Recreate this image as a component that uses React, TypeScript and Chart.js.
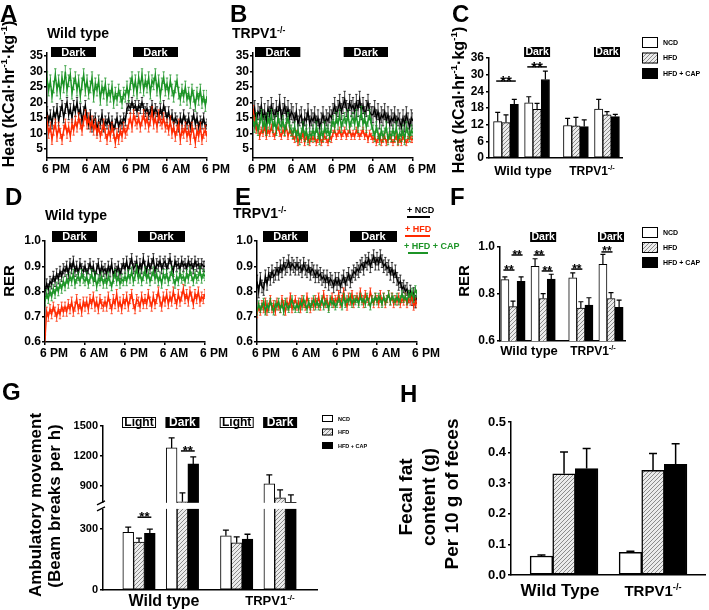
import React, { useEffect, useRef } from 'react';
import { Chart, registerables } from 'chart.js';

Chart.register(...registerables);

/* ============================ DATA ============================ */
const seriesLabels = ['NCD', 'HFD', 'HFD + CAP'];
const timeTickHours = [0, 12, 24, 36, 48];
const timeTickLabels = ['6 PM', '6 AM', '6 PM', '6 AM', '6 PM'];
const sampleStepHours = 0.5;

// Panel A – Heat, wild type (every 30 min, 6 PM day 1 -> 6 PM day 3)
const heatWT_NCD = [
  17, 14, 16, 13, 17, 15, 18, 14, 17, 19, 15, 18,
  20, 16, 18, 15, 19, 17, 20, 16, 18, 14, 17, 19,
  15, 13, 16, 12, 14, 15, 11, 14, 13, 16, 12, 14,
  13, 15, 12, 14, 11, 13, 15, 12, 14, 13, 15, 14,
  18, 19, 18, 20, 18, 19, 17, 19, 18, 20, 18, 17,
  18, 16, 17, 19, 16, 18, 17, 15, 18, 16, 19, 17,
  15, 17, 14, 16, 13, 15, 14, 12, 15, 13, 16, 14,
  13, 15, 12, 14, 16, 13, 15, 12, 14, 13, 15, 12,
  13,
];
const heatWT_HFD = [
  14, 10, 12, 8, 11, 13, 9, 12, 10, 8, 11, 13,
  10, 12, 9, 13, 11, 14, 12, 15, 13, 11, 14, 16,
  13, 15, 12, 14, 11, 13, 10, 12, 9, 11, 13, 10,
  8, 11, 9, 12, 10, 7, 10, 8, 11, 9, 12, 10,
  11, 13, 15, 12, 16, 14, 13, 15, 12, 14, 16, 13,
  15, 12, 14, 17, 13, 15, 12, 16, 14, 13, 15, 12,
  13, 11, 14, 10, 12, 9, 11, 13, 8, 11, 10, 12,
  9, 11, 8, 12, 10, 7, 11, 9, 12, 8, 10, 11,
  9,
];
const heatWT_CAP = [
  28, 24, 27, 22, 25, 29, 24, 27, 23, 28, 25, 30,
  24, 27, 29, 23, 26, 28, 24, 27, 22, 26, 29, 24,
  27, 23, 25, 28, 22, 26, 24, 27, 21, 25, 23, 26,
  21, 24, 22, 25, 20, 23, 21, 24, 22, 20, 23, 22,
  25, 22, 26, 28, 24, 27, 23, 28, 25, 29, 24, 27,
  25, 28, 23, 27, 26, 29, 24, 27, 22, 26, 28, 24,
  26, 23, 27, 24, 22, 25, 27, 23, 21, 24, 22, 25,
  21, 23, 20, 24, 22, 19, 23, 21, 24, 20, 22, 19,
  22,
];
const heatWT_SEM = [1.6, 1.6, 1.9];

// Panel B – Heat, TRPV1-/-
const heatKO_NCD = [
  15, 18, 14, 17, 16, 19, 15, 17, 14, 18, 16, 19,
  17, 15, 18, 16, 20, 15, 17, 19, 16, 18, 15, 17,
  16, 14, 17, 13, 15, 16, 12, 15, 14, 17, 13, 15,
  14, 16, 13, 15, 12, 14, 16, 13, 15, 14, 16, 15,
  17, 19, 16, 18, 20, 17, 19, 21, 18, 17, 20, 18,
  19, 17, 20, 18, 21, 17, 19, 16, 18, 20, 17, 16,
  16, 18, 15, 17, 14, 16, 15, 17, 14, 16, 13, 15,
  14, 16, 13, 15, 14, 12, 15, 13, 16, 14, 12, 15,
  14,
];
const heatKO_HFD = [
  18, 14, 11, 12, 9, 11, 10, 12, 9, 11, 10, 12,
  10, 9, 11, 12, 10, 9, 11, 10, 12, 9, 11, 10,
  9, 8, 10, 7, 9, 8, 10, 7, 9, 8, 7, 9,
  8, 9, 7, 8, 9, 7, 8, 9, 8, 7, 9, 8,
  10, 11, 9, 10, 11, 9, 10, 11, 9, 10, 11, 9,
  10, 9, 11, 10, 9, 10, 11, 9, 10, 8, 10, 9,
  8, 9, 7, 8, 9, 7, 8, 9, 7, 8, 9, 8,
  7, 8, 9, 7, 8, 7, 9, 8, 7, 8, 9, 8,
  8,
];
const heatKO_CAP = [
  14, 12, 15, 11, 13, 16, 12, 14, 11, 15, 13, 16,
  12, 14, 11, 15, 13, 12, 14, 11, 13, 15, 12, 11,
  10, 12, 9, 11, 8, 10, 12, 9, 11, 8, 10, 9,
  11, 9, 12, 10, 8, 11, 9, 12, 10, 11, 9, 12,
  14, 12, 15, 13, 16, 12, 14, 15, 13, 16, 12, 14,
  15, 13, 16, 12, 14, 17, 13, 15, 12, 14, 16, 13,
  11, 9, 12, 10, 8, 11, 9, 10, 12, 8, 10, 9,
  11, 9, 12, 8, 10, 9, 11, 8, 12, 10, 9, 11,
  10,
];
const heatKO_SEM = [2.6, 1.0, 1.7];

// Panel D – RER, wild type
const rerWT_NCD = [
  0.80, 0.83, 0.81, 0.84, 0.83, 0.86, 0.84, 0.87, 0.85, 0.88, 0.86, 0.89,
  0.88, 0.90, 0.87, 0.91, 0.89, 0.92, 0.88, 0.90, 0.87, 0.91, 0.89, 0.88,
  0.90, 0.87, 0.89, 0.91, 0.88, 0.90, 0.86, 0.89, 0.91, 0.87, 0.90, 0.88,
  0.89, 0.87, 0.90, 0.88, 0.91, 0.86, 0.89, 0.88, 0.90, 0.87, 0.89, 0.91,
  0.89, 0.92, 0.88, 0.91, 0.93, 0.89, 0.90, 0.92, 0.88, 0.91, 0.89, 0.93,
  0.90, 0.88, 0.92, 0.89, 0.91, 0.93, 0.88, 0.91, 0.90, 0.92, 0.89, 0.91,
  0.92, 0.89, 0.91, 0.93, 0.90, 0.88, 0.92, 0.90, 0.91, 0.89, 0.92, 0.90,
  0.91, 0.89, 0.92, 0.90, 0.91, 0.89, 0.92, 0.90, 0.91, 0.89, 0.91, 0.90,
  0.90,
];
const rerWT_HFD = [
  0.61, 0.72, 0.70, 0.73, 0.71, 0.74, 0.72, 0.70, 0.73, 0.71, 0.74, 0.72,
  0.74, 0.72, 0.75, 0.73, 0.76, 0.72, 0.74, 0.77, 0.73, 0.75, 0.72, 0.76,
  0.74, 0.76, 0.73, 0.77, 0.75, 0.78, 0.74, 0.76, 0.73, 0.77, 0.75, 0.74,
  0.76, 0.74, 0.78, 0.75, 0.73, 0.77, 0.75, 0.79, 0.74, 0.76, 0.73, 0.77,
  0.75, 0.78, 0.74, 0.77, 0.79, 0.75, 0.73, 0.77, 0.76, 0.74, 0.78, 0.75,
  0.77, 0.75, 0.79, 0.76, 0.74, 0.78, 0.75, 0.77, 0.80, 0.76, 0.74, 0.78,
  0.76, 0.79, 0.75, 0.78, 0.76, 0.80, 0.77, 0.75, 0.79, 0.76, 0.78, 0.81,
  0.77, 0.79, 0.76, 0.80, 0.78, 0.75, 0.79, 0.77, 0.80, 0.76, 0.78, 0.77,
  0.79,
];
const rerWT_CAP = [
  0.76, 0.79, 0.77, 0.80, 0.78, 0.81, 0.79, 0.82, 0.80, 0.83, 0.81, 0.84,
  0.82, 0.85, 0.83, 0.86, 0.84, 0.87, 0.83, 0.85, 0.86, 0.84, 0.87, 0.85,
  0.84, 0.86, 0.83, 0.85, 0.87, 0.84, 0.86, 0.82, 0.85, 0.84, 0.86, 0.83,
  0.85, 0.83, 0.86, 0.84, 0.82, 0.85, 0.87, 0.84, 0.86, 0.83, 0.85, 0.84,
  0.86, 0.84, 0.87, 0.85, 0.88, 0.84, 0.86, 0.89, 0.85, 0.87, 0.84, 0.86,
  0.88, 0.85, 0.87, 0.84, 0.86, 0.88, 0.85, 0.87, 0.84, 0.86, 0.83, 0.87,
  0.85, 0.87, 0.84, 0.86, 0.88, 0.85, 0.83, 0.86, 0.84, 0.87, 0.85, 0.86,
  0.84, 0.87, 0.85, 0.88, 0.86, 0.84, 0.87, 0.85, 0.86, 0.88, 0.85, 0.87,
  0.86,
];
const rerWT_SEM = [0.02, 0.018, 0.017];

// Panel E – RER, TRPV1-/-
const rerKO_NCD = [
  0.84, 0.80, 0.85, 0.82, 0.81, 0.86, 0.83, 0.87, 0.85, 0.88, 0.86, 0.87,
  0.89, 0.87, 0.90, 0.88, 0.91, 0.89, 0.90, 0.92, 0.89, 0.91, 0.90, 0.89,
  0.91, 0.89, 0.90, 0.88, 0.91, 0.89, 0.88, 0.90, 0.87, 0.89, 0.88, 0.86,
  0.88, 0.86, 0.87, 0.85, 0.86, 0.84, 0.86, 0.83, 0.85, 0.84, 0.82, 0.85,
  0.83, 0.85, 0.82, 0.84, 0.86, 0.83, 0.85, 0.87, 0.84, 0.86, 0.88, 0.87,
  0.89, 0.88, 0.90, 0.91, 0.89, 0.92, 0.91, 0.93, 0.90, 0.92, 0.94, 0.91,
  0.93, 0.91, 0.94, 0.92, 0.90, 0.91, 0.89, 0.90, 0.87, 0.89, 0.86, 0.88,
  0.85, 0.83, 0.84, 0.81, 0.82, 0.80, 0.81, 0.78, 0.80, 0.77, 0.79, 0.76,
  0.78,
];
const rerKO_HFD = [
  0.71, 0.74, 0.72, 0.75, 0.73, 0.76, 0.72, 0.74, 0.77, 0.73, 0.75, 0.72,
  0.76, 0.74, 0.73, 0.77, 0.75, 0.72, 0.76, 0.74, 0.78, 0.73, 0.75, 0.77,
  0.74, 0.76, 0.73, 0.77, 0.75, 0.74, 0.78, 0.75, 0.73, 0.76, 0.74, 0.77,
  0.75, 0.78, 0.74, 0.76, 0.79, 0.75, 0.77, 0.74, 0.76, 0.78, 0.75, 0.77,
  0.76, 0.79, 0.75, 0.77, 0.80, 0.76, 0.74, 0.78, 0.76, 0.79, 0.75, 0.77,
  0.78, 0.76, 0.80, 0.77, 0.75, 0.79, 0.77, 0.76, 0.80, 0.77, 0.75, 0.78,
  0.77, 0.75, 0.79, 0.76, 0.78, 0.75, 0.77, 0.79, 0.76, 0.78, 0.75, 0.77,
  0.76, 0.78, 0.75, 0.77, 0.76, 0.78, 0.75, 0.77, 0.76, 0.78, 0.74, 0.76,
  0.75,
];
const rerKO_CAP = [
  0.72, 0.75, 0.73, 0.74, 0.76, 0.72, 0.75, 0.73, 0.76, 0.74, 0.72, 0.75,
  0.74, 0.76, 0.73, 0.75, 0.72, 0.76, 0.74, 0.73, 0.75, 0.77, 0.74, 0.73,
  0.75, 0.73, 0.76, 0.74, 0.77, 0.75, 0.73, 0.76, 0.74, 0.75, 0.77, 0.74,
  0.76, 0.74, 0.75, 0.77, 0.74, 0.76, 0.75, 0.73, 0.77, 0.75, 0.76, 0.74,
  0.75, 0.77, 0.76, 0.74, 0.78, 0.75, 0.77, 0.76, 0.78, 0.75, 0.77, 0.76,
  0.77, 0.75, 0.78, 0.76, 0.77, 0.75, 0.78, 0.76, 0.74, 0.77, 0.76, 0.78,
  0.76, 0.78, 0.77, 0.75, 0.78, 0.76, 0.77, 0.79, 0.76, 0.78, 0.77, 0.76,
  0.78, 0.76, 0.77, 0.79, 0.77, 0.78, 0.76, 0.79, 0.78, 0.80, 0.77, 0.81,
  0.79,
];
const rerKO_SEM = [0.025, 0.014, 0.013];

const heatTicks = [5, 10, 15, 20, 25, 30, 35];
const rerTicks = [0.6, 0.7, 0.8, 0.9, 1.0];

// Bar panels – groups: [WT light, WT dark, TRPV1 light, TRPV1 dark]
const heatBarNCD = [13.1, 19.9, 11.7, 17.65];
const heatBarNCDErr = [3.3, 2.15, 2.6, 3.45];
const heatBarHFD = [12.75, 17.5, 11.55, 15.5];
const heatBarHFDErr = [2.75, 2.2, 3.1, 1.2];
const heatBarCAP = [19.3, 28.25, 11.3, 14.9];
const heatBarCAPErr = [1.8, 3.0, 2.4, 0.8];
const heatBarTicks = [0, 6, 12, 18, 24, 30, 36];
const heatSig = [
  { group: 0, from: 0, to: 2, y: 27.7 },
  { group: 1, from: 0, to: 2, y: 32.8 },
];

const rerBarNCD = [0.861, 0.918, 0.869, 0.926];
const rerBarNCDErr = [0.012, 0.032, 0.021, 0.043];
const rerBarHFD = [0.746, 0.781, 0.74, 0.781];
const rerBarHFDErr = [0.024, 0.021, 0.027, 0.025];
const rerBarCAP = [0.854, 0.863, 0.753, 0.743];
const rerBarCAPErr = [0.019, 0.021, 0.031, 0.031];
const rerBarTicks = [0.6, 0.8, 1.0];
const rerSig = [
  { group: 0, from: 0, to: 1, y: 0.902 },
  { group: 0, from: 1, to: 2, y: 0.966 },
  { group: 1, from: 0, to: 1, y: 0.966 },
  { group: 1, from: 1, to: 2, y: 0.898 },
  { group: 2, from: 0, to: 1, y: 0.906 },
  { group: 3, from: 0, to: 1, y: 0.979 },
];

const ambNCD = [285, 1280, 267, 920];
const ambNCDErr = [25, 100, 28, 90];
const ambHFD = [236, 740, 233, 780];
const ambHFDErr = [20, 90, 29, 80];
const ambCAP = [280, 1120, 251, 735];
const ambCAPErr = [20, 70, 24, 75];
const ambTicks = [0, 300, 900, 1200, 1500];
const ambBreak = [400, 730];
const ambSig = [
  { group: 0, from: 1, to: 2, y: 359 },
  { group: 1, from: 1, to: 2, y: 1250 },
];

// Panel H – groups: [Wild Type, TRPV1-/-]
const fatNCD = [0.062, 0.074];
const fatNCDErr = [0.003, 0.004];
const fatHFD = [0.331, 0.342];
const fatHFDErr = [0.071, 0.055];
const fatCAP = [0.348, 0.362];
const fatCAPErr = [0.065, 0.067];
const fatTicks = [0, 0.1, 0.2, 0.3, 0.4, 0.5];

/* ============================ STYLE / LAYOUT ============================ */
const PAGE_W = 709;
const PAGE_H = 610;
const FONT = '"Liberation Sans", Arial, Helvetica, sans-serif';
const BLACK = '#000000';
const RED = '#ff2a00';
const GREEN = '#1c9426';
const fnt = (size: number) => `bold ${size}px ${FONT}`;
const barGroupPos4 = [0, 1, 2.25, 3.25];
const barGroupPos2 = [0, 1];

type Part = { t: string; sup?: boolean };
type Txt = {
  parts: Part[]; x: number; y: number; size: number;
  color?: string; align?: CanvasTextAlign; rot?: boolean; base?: CanvasTextBaseline;
};

const txt = (s: string, x: number, y: number, size: number, extra: any = {}): Txt => ({ parts: [{ t: s }], x, y, size, ...extra });
const trpv = (x: number, y: number, size: number, extra: any = {}): Txt => ({
  parts: [{ t: 'TRPV1' }, { t: '-/-', sup: true }], x, y, size, ...extra,
});
const heatTitle = (x: number, y: number): Txt => ({
  parts: [{ t: 'Heat (kCal·hr' }, { t: '-1', sup: true }, { t: '·kg' }, { t: '-1', sup: true }, { t: ')' }],
  x, y, size: 16, rot: true, align: 'center', base: 'middle',
});

function drawRich(ctx: CanvasRenderingContext2D, it: Txt) {
  ctx.save();
  ctx.translate(it.x, it.y);
  if (it.rot) ctx.rotate(-Math.PI / 2);
  ctx.fillStyle = it.color || BLACK;
  ctx.textBaseline = it.base || 'alphabetic';
  ctx.textAlign = 'left';
  const supSize = it.size * 0.62;
  const widths = it.parts.map((p) => {
    ctx.font = fnt(p.sup ? supSize : it.size);
    return ctx.measureText(p.t).width;
  });
  const total = widths.reduce((a, b) => a + b, 0);
  let x = it.align === 'center' ? -total / 2 : it.align === 'right' ? -total : 0;
  it.parts.forEach((p, i) => {
    ctx.font = fnt(p.sup ? supSize : it.size);
    ctx.fillText(p.t, x, p.sup ? -it.size * 0.38 : 0);
    x += widths[i];
  });
  ctx.restore();
}

function makeHatch(): CanvasPattern | string {
  const c = document.createElement('canvas');
  c.width = 4; c.height = 4;
  const g = c.getContext('2d');
  if (!g) return '#cccccc';
  g.fillStyle = '#ebebeb';
  g.fillRect(0, 0, 4, 4);
  g.strokeStyle = '#808080';
  g.lineWidth = 0.9;
  g.beginPath();
  g.moveTo(0, 4); g.lineTo(4, 0);
  g.moveTo(-1, 1); g.lineTo(1, -1);
  g.moveTo(3, 5); g.lineTo(5, 3);
  g.stroke();
  return g.createPattern(c, 'repeat') || '#cccccc';
}

const decorPlugin = (fn: (ctx: CanvasRenderingContext2D, chart: any) => void) => ({
  id: 'decor',
  afterDraw(chart: any) {
    const ctx = chart.ctx;
    ctx.save();
    fn(ctx, chart);
    ctx.restore();
  },
});

const errorPlugin = {
  id: 'errs',
  afterDatasetDraw(chart: any, args: any) {
    const ds = chart.data.datasets[args.index];
    const ys = chart.scales.y;
    const ctx = chart.ctx;
    const area = chart.chartArea;
    ctx.save();
    if (ds.sem != null) {
      ctx.beginPath();
      ctx.rect(area.left, area.top, area.right - area.left, area.bottom - area.top);
      ctx.clip();
      ctx.strokeStyle = ds.borderColor;
      ctx.globalAlpha = 0.85;
      ctx.lineWidth = 0.9;
      ctx.beginPath();
      args.meta.data.forEach((el: any, i: number) => {
        const v = ds.data[i].y;
        const y1 = ys.getPixelForValue(v + ds.sem);
        const y2 = ys.getPixelForValue(v - ds.sem);
        ctx.moveTo(el.x, y1); ctx.lineTo(el.x, y2);
        ctx.moveTo(el.x - 1.2, y1); ctx.lineTo(el.x + 1.2, y1);
        ctx.moveTo(el.x - 1.2, y2); ctx.lineTo(el.x + 1.2, y2);
      });
      ctx.stroke();
    }
    if (ds.errTips) {
      ctx.strokeStyle = BLACK;
      ctx.lineWidth = ds.errWidth || 1.2;
      ctx.beginPath();
      args.meta.data.forEach((el: any, i: number) => {
        const tip = ys.getPixelForValue(ds.errTips[i]);
        ctx.moveTo(el.x, el.y); ctx.lineTo(el.x, tip);
        ctx.moveTo(el.x - ds.capHalf, tip); ctx.lineTo(el.x + ds.capHalf, tip);
      });
      ctx.stroke();
    }
    ctx.restore();
  },
};

const axisFont = (size: number) => ({ family: FONT, size, weight: 'bold' as const });

function tsChart(o: any) {
  const [l, t, r, b] = o.plot;
  const YW = 40, XH = 22;
  return {
    type: 'line',
    data: {
      datasets: o.series.map((s: any) => ({
        label: s.label,
        data: s.values.map((y: number, i: number) => ({ x: i * sampleStepHours, y })),
        borderColor: s.color,
        backgroundColor: s.color,
        borderWidth: 1.4,
        pointRadius: 0,
        tension: 0,
        fill: false,
        sem: s.sem,
      })),
    },
    options: {
      responsive: false, animation: false, devicePixelRatio: 1, events: [],
      layout: { padding: { left: l - YW, top: t, right: PAGE_W - r, bottom: PAGE_H - b - XH } },
      plugins: { legend: { display: false }, tooltip: { enabled: false }, title: { display: false } },
      scales: {
        x: {
          type: 'linear', min: 0, max: 48,
          afterBuildTicks: (s: any) => { s.ticks = timeTickHours.map((v) => ({ value: v })); },
          afterFit: (s: any) => { s.height = XH; },
          ticks: {
            autoSkip: false, maxRotation: 0, minRotation: 0, labelOffset: 9, padding: 1, color: BLACK,
            font: axisFont(12), callback: (_v: any, i: number) => timeTickLabels[i],
          },
          grid: { drawOnChartArea: false, tickLength: 3, color: BLACK, lineWidth: 1.5 },
          border: { color: BLACK, width: 1.5 },
        },
        y: {
          type: 'linear', min: o.yMin, max: o.yMax,
          afterBuildTicks: (s: any) => { s.ticks = o.yTicks.map((v: number) => ({ value: v })); },
          afterFit: (s: any) => { s.width = YW; },
          ticks: { autoSkip: false, padding: 1, color: BLACK, font: axisFont(12), callback: o.yLabel },
          grid: { drawOnChartArea: false, tickLength: 3, color: BLACK, lineWidth: 1.5 },
          border: { color: BLACK, width: 1.5 },
        },
      },
    },
    plugins: [errorPlugin, decorPlugin((ctx, chart) => {
      const xs = chart.scales.x;
      o.darkHours.forEach(([h1, h2]: number[]) => {
        const x1 = xs.getPixelForValue(h1), x2 = xs.getPixelForValue(h2);
        ctx.fillStyle = BLACK;
        ctx.fillRect(x1, o.darkTop, x2 - x1, o.darkH);
        drawRich(ctx, txt('Dark', (x1 + x2) / 2, o.darkTop + o.darkH / 2 + 0.5, 11, { color: '#fff', align: 'center', base: 'middle' }));
      });
      (o.lineLegend || []).forEach((it: any) => {
        const ds = chart.data.datasets.find((d: any) => d.label === it.label);
        const col = ds ? ds.borderColor : BLACK;
        drawRich(ctx, txt('+ ' + it.label, it.x, it.y, 9, { color: col }));
        ctx.strokeStyle = col;
        ctx.lineWidth = 2;
        ctx.beginPath();
        ctx.moveTo(it.lx1, it.ly); ctx.lineTo(it.lx2, it.ly);
        ctx.stroke();
      });
      o.texts.forEach((tx: Txt) => drawRich(ctx, tx));
    })],
  };
}

function barChart(o: any) {
  const [l, t, r, b] = o.plot;
  const YW = 40, XH = 24;
  const tf = o.transform || ((v: number) => v);
  return {
    type: 'bar',
    data: {
      datasets: o.series.map((s: any) => ({
        label: s.label,
        data: o.groupPos.map((x: number, i: number) => ({ x, y: tf(s.values[i]) })),
        errTips: s.values.map((v: number, i: number) => tf(v + s.errors[i])),
        capHalf: o.capHalf,
        errWidth: o.errWidth,
        backgroundColor: s.fill,
        borderColor: BLACK,
        borderWidth: o.borderWidth,
        borderSkipped: false,
        barThickness: o.barThickness,
      })),
    },
    options: {
      responsive: false, animation: false, devicePixelRatio: 1, events: [],
      layout: { padding: { left: l - YW, top: t, right: PAGE_W - r, bottom: PAGE_H - b - XH } },
      plugins: { legend: { display: false }, tooltip: { enabled: false }, title: { display: false } },
      scales: {
        x: {
          type: 'linear', min: o.xMin, max: o.xMax, offset: false,
          afterFit: (s: any) => { s.height = XH; },
          ticks: { display: false },
          grid: { display: true, drawOnChartArea: false, drawTicks: false, offset: false, color: 'rgba(0,0,0,0)' },
          border: { color: BLACK, width: 1.5 },
        },
        y: {
          type: 'linear', min: tf(o.yTicks[0]), max: tf(o.yTicks[o.yTicks.length - 1]),
          afterBuildTicks: (s: any) => { s.ticks = o.yTicks.map((v: number) => ({ value: tf(v) })); },
          afterFit: (s: any) => { s.width = YW; },
          ticks: { autoSkip: false, padding: 2, color: BLACK, font: axisFont(o.tickSize), callback: (_v: any, i: number) => o.yTickLabel(o.yTicks[i]) },
          grid: { drawOnChartArea: false, tickLength: 3, color: BLACK, lineWidth: 1.5 },
          border: { color: BLACK, width: 1.5 },
        },
      },
    },
    plugins: [errorPlugin, decorPlugin((ctx, chart) => {
      const xs = chart.scales.x, ys = chart.scales.y, area = chart.chartArea;
      if (o.breakAt) {
        const yLow = ys.getPixelForValue(tf(o.breakAt[0]));
        const yHigh = ys.getPixelForValue(tf(o.breakAt[1]));
        ctx.fillStyle = '#ffffff';
        ctx.fillRect(area.left - 8, yHigh, area.right - area.left + 8, yLow - yHigh);
        ctx.strokeStyle = BLACK;
        ctx.lineWidth = 1.3;
        ctx.beginPath();
        [yHigh, yLow].forEach((yy) => { ctx.moveTo(area.left - 6, yy + 2); ctx.lineTo(area.left + 2, yy - 2); });
        ctx.stroke();
      }
      (o.boxes || []).forEach((bx: any) => {
        const cx = xs.getPixelForValue(o.groupPos[bx.group]);
        const x1 = cx - o.boxW / 2;
        ctx.fillStyle = bx.dark ? BLACK : '#ffffff';
        ctx.fillRect(x1, o.boxTop, o.boxW, o.boxH);
        if (!bx.dark) {
          ctx.strokeStyle = BLACK; ctx.lineWidth = 1;
          ctx.strokeRect(x1 + 0.5, o.boxTop + 0.5, o.boxW - 1, o.boxH - 1);
        }
        drawRich(ctx, txt(bx.text, cx, o.boxTop + o.boxH / 2 + 0.5, o.boxFont, { color: bx.dark ? '#fff' : BLACK, align: 'center', base: 'middle' }));
      });
      (o.sig || []).forEach((s: any) => {
        const a = chart.getDatasetMeta(s.from).data[s.group];
        const c = chart.getDatasetMeta(s.to).data[s.group];
        const y = ys.getPixelForValue(tf(s.y));
        const x1 = a.x - 1.5, x2 = c.x + 1.5;
        ctx.strokeStyle = BLACK; ctx.lineWidth = 1.5;
        ctx.beginPath(); ctx.moveTo(x1, y); ctx.lineTo(x2, y); ctx.stroke();
        drawRich(ctx, txt('**', (x1 + x2) / 2, y - 1.5 + o.sigSize * 0.42, o.sigSize, { align: 'center' }));
      });
      if (o.legend) {
        const L = o.legend;
        chart.data.datasets.forEach((ds: any, i: number) => {
          const y = L.y + i * L.dy;
          ctx.fillStyle = ds.backgroundColor;
          ctx.fillRect(L.x, y, L.bw, L.bh);
          ctx.strokeStyle = BLACK; ctx.lineWidth = 1;
          ctx.strokeRect(L.x + 0.5, y + 0.5, L.bw - 1, L.bh - 1);
          drawRich(ctx, txt(ds.label, L.tx, y + L.bh / 2 + 0.5, L.size, { base: 'middle' }));
        });
      }
      o.texts.forEach((tx: Txt) => drawRich(ctx, tx));
    })],
  };
}

function ambMap(v: number) {
  const [lo, hi] = ambBreak;
  const gap = 30;
  const upper = 0.492;
  if (v <= lo) return v;
  if (v >= hi) return lo + gap + (v - hi) * upper;
  return lo + ((v - lo) / (hi - lo)) * gap;
}

function buildConfigs() {
  const hatch = makeHatch();
  const fills = ['#ffffff', hatch, BLACK];
  const lineColors = [BLACK, RED, GREEN];
  const ts = (ncd: number[], hfd: number[], cap: number[], sem: number[]) => [
    { label: seriesLabels[2], color: lineColors[2], values: cap, sem: sem[2] },
    { label: seriesLabels[1], color: lineColors[1], values: hfd, sem: sem[1] },
    { label: seriesLabels[0], color: lineColors[0], values: ncd, sem: sem[0] },
  ];
  const bars = (v: number[][], e: number[][]) => v.map((vals, i) => ({ label: seriesLabels[i], fill: fills[i], values: vals, errors: e[i] }));
  const fixed1 = (v: number) => v.toFixed(1);

  const A = tsChart({
    plot: [47, 53, 207, 158], yMin: 2, yMax: 36, yTicks: heatTicks, yLabel: (v: number) => String(v),
    series: ts(heatWT_NCD, heatWT_HFD, heatWT_CAP, heatWT_SEM),
    darkHours: [[1.2, 14.7], [25.8, 39.3]], darkTop: 47, darkH: 10,
    texts: [txt('A', 0, 22, 24), txt('Wild type', 47, 38, 14), heatTitle(10, 94)],
  });
  const B = tsChart({
    plot: [253, 53, 413, 158], yMin: 2, yMax: 36, yTicks: heatTicks, yLabel: (v: number) => String(v),
    series: ts(heatKO_NCD, heatKO_HFD, heatKO_CAP, heatKO_SEM),
    darkHours: [[0.6, 14.2], [27.2, 40.5]], darkTop: 47, darkH: 10,
    texts: [txt('B', 230, 22, 24), trpv(232, 38, 14)],
  });
  const D = tsChart({
    plot: [45, 241, 205, 342], yMin: 0.6, yMax: 1.0, yTicks: rerTicks, yLabel: fixed1,
    series: ts(rerWT_NCD, rerWT_HFD, rerWT_CAP, rerWT_SEM),
    darkHours: [[2.1, 15.6], [27.9, 42]], darkTop: 231, darkH: 11,
    texts: [txt('D', 5, 205, 24), txt('Wild type', 45, 220, 14), txt('RER', 10, 281, 15, { rot: true, align: 'center', base: 'middle' })],
  });
  const E = tsChart({
    plot: [257, 241, 417, 342], yMin: 0.6, yMax: 1.0, yTicks: rerTicks, yLabel: fixed1,
    series: ts(rerKO_NCD, rerKO_HFD, rerKO_CAP, rerKO_SEM),
    darkHours: [[1.8, 15.3], [27.9, 42]], darkTop: 231, darkH: 11,
    lineLegend: [
      { label: seriesLabels[0], x: 407, y: 213, lx1: 407, lx2: 430, ly: 217 },
      { label: seriesLabels[1], x: 405, y: 232, lx1: 405, lx2: 430, ly: 236 },
      { label: seriesLabels[2], x: 404, y: 249, lx1: 408, lx2: 428, ly: 253 },
    ],
    texts: [txt('E', 235, 205, 24), trpv(233, 218, 14)],
  });

  const C = barChart({
    plot: [489, 58, 622, 158], xMin: -0.547, xMax: 3.733, groupPos: barGroupPos4,
    yTicks: heatBarTicks, yTickLabel: (v: number) => String(v), tickSize: 12,
    series: bars([heatBarNCD, heatBarHFD, heatBarCAP], [heatBarNCDErr, heatBarHFDErr, heatBarCAPErr]),
    barThickness: 8.3, borderWidth: 1, capHalf: 2.5, errWidth: 1.2,
    sig: heatSig, sigSize: 15,
    boxes: [{ group: 1, text: 'Dark', dark: true }, { group: 3, text: 'Dark', dark: true }],
    boxW: 26, boxTop: 47, boxH: 10, boxFont: 10.5,
    legend: { x: 642, y: 37, dy: 15.5, bw: 16, bh: 11, size: 7, tx: 663 },
    texts: [txt('C', 452, 22, 24), heatTitle(460, 100), txt('Wild type', 523, 175, 13, { align: 'center' }), trpv(592, 175, 12, { align: 'center' })],
  });
  const F = barChart({
    plot: [500, 247, 625, 341], xMin: -0.431, xMax: 3.714, groupPos: barGroupPos4,
    yTicks: rerBarTicks, yTickLabel: fixed1, tickSize: 12,
    series: bars([rerBarNCD, rerBarHFD, rerBarCAP], [rerBarNCDErr, rerBarHFDErr, rerBarCAPErr]),
    barThickness: 8.1, borderWidth: 1, capHalf: 2.5, errWidth: 1.2,
    sig: rerSig, sigSize: 12,
    boxes: [{ group: 1, text: 'Dark', dark: true }, { group: 3, text: 'Dark', dark: true }],
    boxW: 26, boxTop: 232, boxH: 10, boxFont: 10.5,
    legend: { x: 642, y: 227, dy: 15, bw: 16, bh: 11, size: 7, tx: 663 },
    texts: [txt('F', 450, 205, 24), txt('RER', 465, 281, 15, { rot: true, align: 'center', base: 'middle' }), txt('Wild type', 529, 355, 13, { align: 'center' }), trpv(593, 355, 12, { align: 'center' })],
  });
  const G = barChart({
    plot: [103, 426, 317, 590], xMin: -0.83, xMax: 4.1, groupPos: barGroupPos4,
    yTicks: ambTicks, yTickLabel: (v: number) => String(v), tickSize: 11, transform: ambMap, breakAt: ambBreak,
    series: bars([ambNCD, ambHFD, ambCAP], [ambNCDErr, ambHFDErr, ambCAPErr]),
    barThickness: 10.8, borderWidth: 1, capHalf: 3, errWidth: 1.3,
    sig: ambSig, sigSize: 13,
    boxes: [
      { group: 0, text: 'Light', dark: false }, { group: 1, text: 'Dark', dark: true },
      { group: 2, text: 'Light', dark: false }, { group: 3, text: 'Dark', dark: true },
    ],
    boxW: 34, boxTop: 417, boxH: 11, boxFont: 12,
    legend: { x: 322, y: 415, dy: 13.5, bw: 11, bh: 7, size: 5.5, tx: 338 },
    texts: [
      txt('G', 2, 400, 24),
      txt('Ambulatory movement', 36, 505, 17, { rot: true, align: 'center', base: 'middle' }),
      txt('(Beam breaks per h)', 55, 506, 17, { rot: true, align: 'center', base: 'middle' }),
      txt('Wild type', 164, 606, 16, { align: 'center' }), trpv(270, 605, 13, { align: 'center' }),
    ],
  });
  const Hh = barChart({
    plot: [511, 422, 705, 575], xMin: -0.596, xMax: 1.584, groupPos: barGroupPos2,
    yTicks: fatTicks, yTickLabel: fixed1, tickSize: 13,
    series: bars([fatNCD, fatHFD, fatCAP], [fatNCDErr, fatHFDErr, fatCAPErr]),
    barThickness: 22.6, borderWidth: 1.5, capHalf: 4, errWidth: 1.5,
    sig: [], sigSize: 12, boxes: [],
    texts: [
      txt('H', 400, 402, 24),
      txt('Fecal fat', 407, 497, 19, { rot: true, align: 'center', base: 'middle' }),
      txt('content (g)', 430, 497, 19, { rot: true, align: 'center', base: 'middle' }),
      txt('Per 10 g of feces', 453, 494, 19, { rot: true, align: 'center', base: 'middle' }),
      txt('Wild Type', 560, 596, 17, { align: 'center' }), trpv(653, 596, 15, { align: 'center' }),
    ],
  });
  return [A, B, C, D, E, F, G, Hh];
}

export default function App() {
  const refs = useRef<(HTMLCanvasElement | null)[]>([]);
  useEffect(() => {
    const configs = buildConfigs();
    const charts = configs.map((cfg, i) => new Chart(refs.current[i] as HTMLCanvasElement, cfg as any));
    return () => charts.forEach((c) => c.destroy());
  }, []);
  return (
    <div style={{ position: 'absolute', left: 0, top: 0, width: PAGE_W, height: PAGE_H, background: '#ffffff', overflow: 'hidden' }}>
      {Array.from({ length: 8 }).map((_, i) => (
        <canvas
          key={i}
          ref={(el) => { refs.current[i] = el; }}
          width={PAGE_W}
          height={PAGE_H}
          style={{ position: 'absolute', left: 0, top: 0, width: PAGE_W, height: PAGE_H }}
        />
      ))}
    </div>
  );
}
